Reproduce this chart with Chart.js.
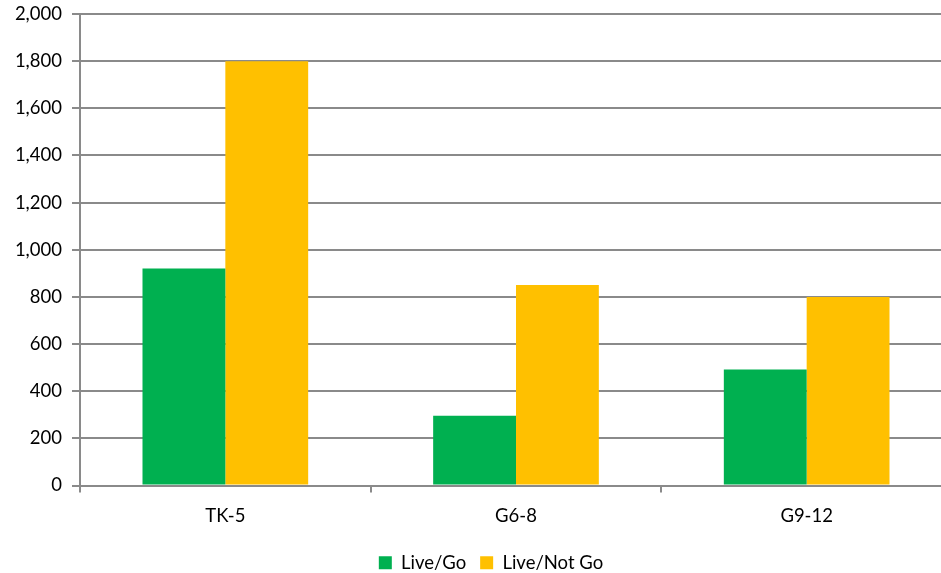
<!DOCTYPE html>
<html>
<head>
<meta charset="utf-8">
<script src="https://cdn.jsdelivr.net/npm/chart.js@4/dist/chart.umd.min.js"></script>
<style>
  html, body { margin: 0; padding: 0; background: #fff; overflow: hidden; }
  #wrap { width: 941px; height: 573px; overflow: hidden; }
</style>
</head>
<body>
<div id="wrap"><canvas id="grades" width="952" height="573"></canvas></div>
<script>
var categories = ["TK-5", "G6-8", "G9-12"];
var liveGo = [920, 296, 492];
var liveNotGo = [1800, 850, 800];
var seriesNames = ["Live/Go", "Live/Not Go"];

var FONT = "Lato, 'Open Sans', sans-serif";

// nudge the legend to where the original sits
var legendShift = {
    id: 'legendShift',
    afterLayout: function(chart) {
        var lg = chart.legend;
        lg.left += 15; lg.right += 15;
        lg.top += 9; lg.bottom += 9;
    }
};

var ctx = document.getElementById("grades");
var gradesChart = new Chart(ctx, {
    type: 'bar',
    data: {
        labels: categories,
        datasets: [{
            label: seriesNames[0],
            data: liveGo,
            backgroundColor: '#00b050',
            borderWidth: 0
        }, {
            label: seriesNames[1],
            data: liveNotGo,
            backgroundColor: '#ffc000',
            borderWidth: 0
        }]
    },
    options: {
        responsive: false,
        animation: false,
        categoryPercentage: 0.57,
        barPercentage: 1.0,
        layout: { padding: { top: 14, right: 0, left: 0, bottom: 0 } },
        plugins: {
            tooltip: { enabled: false },
            legend: {
                position: 'bottom',
                labels: {
                    font: { family: FONT, size: 18.5 },
                    color: '#000',
                    boxWidth: 13,
                    boxHeight: 13,
                    padding: 14
                }
            }
        },
        scales: {
            x: {
                grid: {
                    drawOnChartArea: false,
                    offset: true,
                    color: '#8a8a8a',
                    lineWidth: 2,
                    tickLength: 7
                },
                border: { color: '#8a8a8a', width: 2 },
                ticks: {
                    font: { family: FONT, size: 18.5 },
                    color: '#000',
                    padding: 12
                },
                afterFit: function(scale) { scale.height = 45; }
            },
            y: {
                min: 0,
                max: 2000,
                ticks: {
                    stepSize: 200,
                    font: { family: FONT, size: 18.5 },
                    color: '#000',
                    padding: 10,
                    callback: function(v) { return v.toLocaleString('en-US'); }
                },
                grid: {
                    color: '#8a8a8a',
                    lineWidth: 2,
                    tickLength: 8
                },
                border: { color: '#8a8a8a', width: 2 },
                afterFit: function(scale) {
                    scale.width = 80;
                    scale.paddingTop = 0;
                    scale.paddingBottom = 0;
                }
            }
        }
    },
    plugins: [legendShift]
});
</script>
</body>
</html>
